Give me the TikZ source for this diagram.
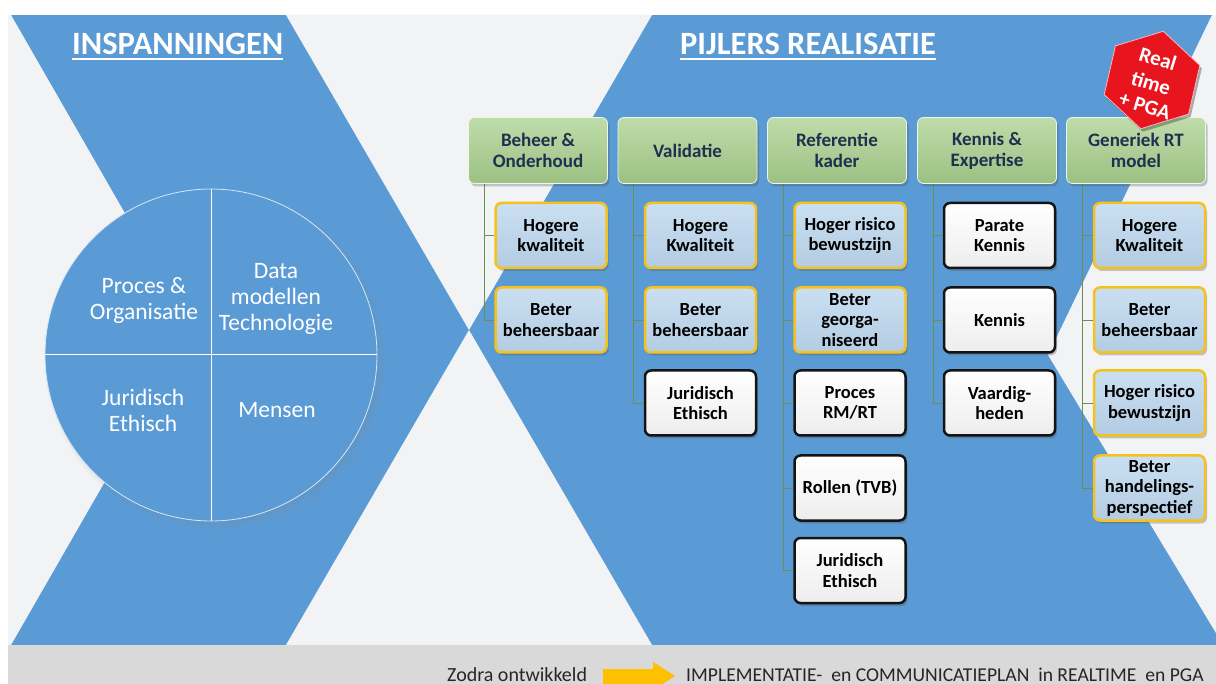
\documentclass[tikz,border=0pt]{standalone}
\usepackage{fontspec}
\setmainfont{Carlito}
\usetikzlibrary{shadows,calc}
\definecolor{bgblue}{HTML}{5B9BD5}
\definecolor{bggrey}{HTML}{F2F3F5}
\definecolor{barg}{HTML}{D9D9D9}
\definecolor{hdrgreen}{HTML}{A9D18E}
\definecolor{hdrtext}{HTML}{1F2F50}
\definecolor{chblue}{HTML}{BDD7EE}
\definecolor{goldline}{HTML}{F5C21B}
\definecolor{connc}{HTML}{6E8F52}
\definecolor{octred}{HTML}{E8141E}
\definecolor{arrowgold}{HTML}{FFC000}
\tikzset{
  myshadow/.style={drop shadow={shadow xshift=2pt,shadow yshift=-3pt,opacity=0.3,fill=black!70}},
  hdr/.style={draw=white!80!hdrgreen,line width=0.8pt,rounded corners=6pt,
    top color=hdrgreen!75!white,bottom color=hdrgreen!92!black,
    minimum width=139pt,minimum height=66pt,align=center,text=hdrtext,
    font=\bfseries\fontsize{19}{21}\selectfont,inner sep=0pt,myshadow},
  blbox/.style={draw=goldline,line width=2.5pt,rounded corners=6pt,
    top color=chblue!80!white,bottom color=chblue!95!black,
    minimum width=111pt,minimum height=65pt,align=center,text=black,
    font=\bfseries\fontsize{18.5}{20.5}\selectfont,inner sep=0pt,myshadow},
  whbox/.style={draw=black!92,line width=2.5pt,rounded corners=6pt,
    top color=white,bottom color=black!7,
    minimum width=111pt,minimum height=65pt,align=center,text=black,
    font=\bfseries\fontsize{18.5}{20.5}\selectfont,inner sep=0pt,myshadow},
  connline/.style={draw=connc,line width=0.8pt},
  circtext/.style={text=white,font=\fontsize{23.5}{26}\selectfont,align=center,inner sep=0pt},
  titletext/.style={text=white,font=\bfseries\fontsize{32.5}{36}\selectfont,inner sep=0pt,anchor=base west},
  bartext/.style={text=black!85,font=\fontsize{20}{22}\selectfont,inner sep=0pt,anchor=base west,text depth=0pt},
  badgetext/.style={rotate=-17,text=white,font=\bfseries\fontsize{21}{23}\selectfont,inner sep=0pt}
}
\begin{document}
\begin{tikzpicture}[x=1pt,y=-1pt]
\useasboundingbox (0,0) rectangle (1216,684);
\fill[white] (0,0) rectangle (1216,684);
% background
\fill[bgblue] (8,15) rectangle (1216,645);
\fill[bggrey] (8,15) -- (11,15) -- (192,330) -- (11,645) -- (8,645) -- cycle;
\fill[bggrey] (286,15) -- (652,15) -- (469,330) -- cycle;
\fill[bggrey] (469,330) -- (286,645) -- (652,645) -- cycle;
\fill[bggrey] (1212,15) -- (1216,15) -- (1216,633) -- (1048,355) -- cycle;
\fill[barg] (8,645) rectangle (1216,684);

% titles
\node[titletext] (ti1) at (72,55) {INSPANNINGEN};
\draw[white,line width=1.6pt] ([yshift=-4pt]ti1.base west) -- ([yshift=-4pt]ti1.base east);
\node[titletext] (ti2) at (680,55) {PIJLERS REALISATIE};
\draw[white,line width=1.6pt] ([yshift=-4pt]ti2.base west) -- ([yshift=-4pt]ti2.base east);

% circle
\node[circle,minimum size=332pt,inner sep=0pt,fill=bgblue,draw=white!75!bgblue,line width=0.8pt,
  circular drop shadow={shadow xshift=4pt,shadow yshift=-4pt,shadow scale=1.03,opacity=0.45}] (circ) at (211,355) {};
\draw[white,line width=1pt] (circ.north) -- (circ.south);
\draw[white,line width=1pt] (circ.west) -- (circ.east);
\node[circtext] (q1) at (144,300) {Proces \&\\Organisatie};
\node[circtext] (q2) at (276,299) {Data\\modellen\\Technologie};
\node[circtext] (q3) at (143,410) {Juridisch\\Ethisch};
\node[circtext] (q4) at (277,410) {Mensen};

% children nodes
\node[blbox] (c11) at (551,235.5) {Hogere\\kwaliteit};
\node[blbox] (c12) at (551,320) {Beter\\beheersbaar};

\node[blbox] (c21) at (700.5,235.5) {Hogere\\Kwaliteit};
\node[blbox] (c22) at (700.5,320) {Beter\\beheersbaar};
\node[whbox] (c23) at (700.5,403) {Juridisch\\Ethisch};

\node[blbox] (c31) at (850,235.5) {Hoger risico\\bewustzijn};
\node[blbox] (c32) at (850,320) {Beter\\georga-\\niseerd};
\node[whbox] (c33) at (850,403) {Proces\\RM/RT};
\node[whbox] (c34) at (850,488) {Rollen (TVB)};
\node[whbox] (c35) at (850,570.5) {Juridisch\\Ethisch};

\node[whbox] (c41) at (999.5,235.5) {Parate\\Kennis};
\node[whbox] (c42) at (999.5,320) {Kennis};
\node[whbox] (c43) at (999.5,403) {Vaardig-\\heden};

\node[blbox] (c51) at (1149.5,235.5) {Hogere\\Kwaliteit};
\node[blbox] (c52) at (1149.5,320) {Beter\\beheersbaar};
\node[blbox] (c53) at (1149.5,403) {Hoger risico\\bewustzijn};
\node[blbox] (c54) at (1149.5,488) {Beter\\handelings-\\perspectief};

% header coordinates for connectors (headers drawn afterwards)
\coordinate (h1s) at (484,184);
\coordinate (h2s) at (633,184);
\coordinate (h3s) at (783,184);
\coordinate (h4s) at (933,184);
\coordinate (h5s) at (1082,184);
\foreach \c in {c11,c12} \draw[connline] (h1s) |- (\c.west);
\foreach \c in {c21,c22,c23} \draw[connline] (h2s) |- (\c.west);
\foreach \c in {c31,c32,c33,c34,c35} \draw[connline] (h3s) |- (\c.west);
\foreach \c in {c41,c42,c43} \draw[connline] (h4s) |- (\c.west);
\foreach \c in {c51,c52,c53,c54} \draw[connline] (h5s) |- (\c.west);

% headers
\node[hdr] (h1) at (538,150.5) {Beheer \&\\Onderhoud};
\node[hdr] (h2) at (687.5,150.5) {Validatie};
\node[hdr] (h3) at (837,150.5) {Referentie\\kader};
\node[hdr] (h4) at (987,150.5) {Kennis \&\\Expertise};
\node[hdr] (h5) at (1136,150.5) {Generiek RT\\model};

% red hexagon badge
\fill[black,opacity=0.3,shift={(1154,83)}] (-17:50) -- (43:50) -- (103:50) -- (163:50) -- (223:50) -- (283:50) -- cycle;
\filldraw[fill=octred,draw=white!70!octred,line width=0.8pt,shift={(1152,80)}] (-17:50) -- (43:50) -- (103:50) -- (163:50) -- (223:50) -- (283:50) -- cycle;
\node[badgetext] (b1) at (1158,59) {Real};
\node[badgetext] (b2) at (1151,83) {time};
\node[badgetext] (b3) at (1145,106) {+ PGA};

% bottom bar
\node[bartext] (zo) at (447,681) {Zodra ontwikkeld};
\fill[arrowgold] (603,669) -- (653,669) -- (653,662) -- (675,676) -- (653,690) -- (653,684) -- (603,684) -- cycle;
\node[bartext,font=\fontsize{19.6}{22}\selectfont] (impl) at (686,681) {IMPLEMENTATIE-\ \ en COMMUNICATIEPLAN\ \ in REALTIME\ \ en PGA};
\end{tikzpicture}
\end{document}
